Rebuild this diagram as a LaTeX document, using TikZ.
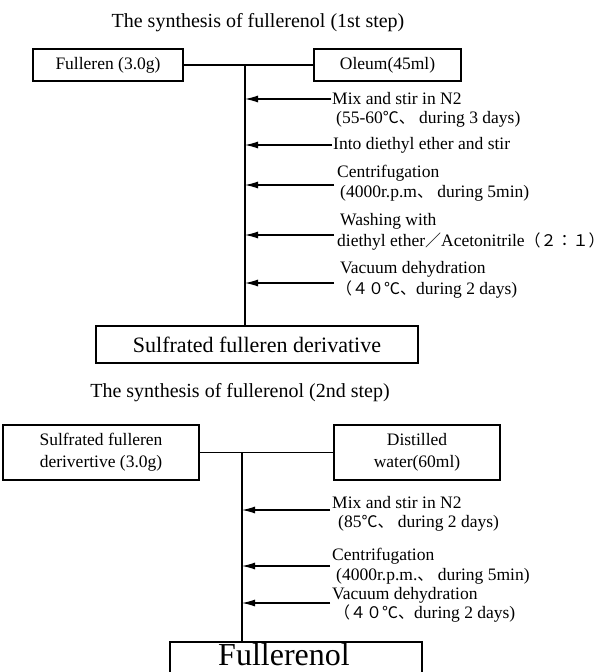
\documentclass[tikz,border=0pt]{standalone}
\usepackage{fontspec}
\setmainfont{Liberation Serif}
\newfontfamily\cjk{Noto Sans CJK JP}
\usetikzlibrary{arrows.meta}
\newcommand{\fw}[1]{{\cjk\fontsize{16}{18}\selectfont #1}}
\begin{document}
\begin{tikzpicture}[x=1pt,y=-1pt,
  box/.style={draw, line width=1.1pt, inner sep=0pt, align=center, font=\fontsize{17.5}{20}\selectfont},
  ttl/.style={inner sep=0pt, font=\fontsize{20}{22}\selectfont},
  lbl/.style={anchor=west, inner sep=0pt, font=\fontsize{17.5}{20}\selectfont},
  ln/.style={line width=1.1pt},
  arr/.style={line width=1.1pt, -{Latex[length=13pt,width=7pt]}}]
\useasboundingbox (0,0) rectangle (608,672);
% ---------- step 1 ----------
\node[ttl] (title1) at (258,23) {The synthesis of fullerenol (1st step)};
\node[box, minimum width=150pt, minimum height=32pt] (ful) at (108,65) {Fulleren (3.0g)};
\node[box, minimum width=147pt, minimum height=32pt] (ole) at (387.5,65) {Oleum(45ml)};
\node[box, minimum width=322pt, minimum height=37pt, font=\fontsize{22}{24}\selectfont] (sul) at (257,344.5) {Sulfrated fulleren derivative};
\draw[ln] (ful.east) -- (ole.west);
\coordinate (top1) at (245,65);
\draw[ln] (top1) -- (top1 |- sul.north);
% labels
\node[lbl] (m1a) at (332,99) {Mix and stir in N2};
\node[lbl] (m1b) at (336,119) {(55-60\fw{℃、} during 3 days)};
\node[lbl] (m2) at (333,145) {Into diethyl ether and stir};
\node[lbl] (m3a) at (337,173) {Centrifugation};
\node[lbl] (m3b) at (340,193) {(4000r.p.m\fw{、} during 5min)};
\node[lbl] (m4a) at (340,221) {Washing with};
\node[lbl] (m4b) at (337,242) {diethyl ether\fw{／}Acetonitrile\fw{（２：１）}};
\node[lbl] (m5a) at (340,269) {Vacuum dehydration};
\node[lbl] (m5b) at (336,290) {\fw{（４０℃、}during 2 days)};
% arrows
\coordinate (s1) at (331,99);
\coordinate (s2) at (332,145);
\coordinate (s3) at (334,185);
\coordinate (s4) at (334,235);
\coordinate (s5) at (334,283);
\foreach \s in {s1,s2,s3,s4,s5} \draw[arr] (\s) -- (\s -| top1);
% ---------- step 2 ----------
\node[ttl] (title2) at (240,393) {The synthesis of fullerenol (2nd step)};
\node[box, minimum width=196pt, minimum height=55pt, font=\fontsize{17.5}{22}\selectfont] (sfd) at (101,452.5) {Sulfrated fulleren\\derivertive (3.0g)};
\node[box, minimum width=166pt, minimum height=55pt, font=\fontsize{17.5}{22}\selectfont] (dw) at (417,452.5) {Distilled\\water(60ml)};
\node[box, minimum width=252pt, minimum height=60pt] (fol) at (296,672) {};
\node[inner sep=0pt, font=\fontsize{32}{34}\selectfont] (folt) at (284,655) {Fullerenol};
\draw[ln] (sfd.east) -- (dw.west);
\coordinate (top2) at (242,452.5);
\draw[ln] (top2) -- (top2 |- fol.north);
\node[lbl] (n1a) at (332,503) {Mix and stir in N2};
\node[lbl] (n1b) at (338,523) {(85\fw{℃、} during 2 days)};
\node[lbl] (n2a) at (332,556) {Centrifugation};
\node[lbl] (n2b) at (336,576) {(4000r.p.m.\fw{、} during 5min)};
\node[lbl] (n3a) at (332,595) {Vacuum dehydration};
\node[lbl] (n3b) at (334,614) {\fw{（４０℃、}during 2 days)};
\coordinate (u1) at (330,510);
\coordinate (u2) at (330,566);
\coordinate (u3) at (330,603);
\foreach \s in {u1,u2,u3} \draw[arr] (\s) -- (\s -| top2);
\end{tikzpicture}
\end{document}
